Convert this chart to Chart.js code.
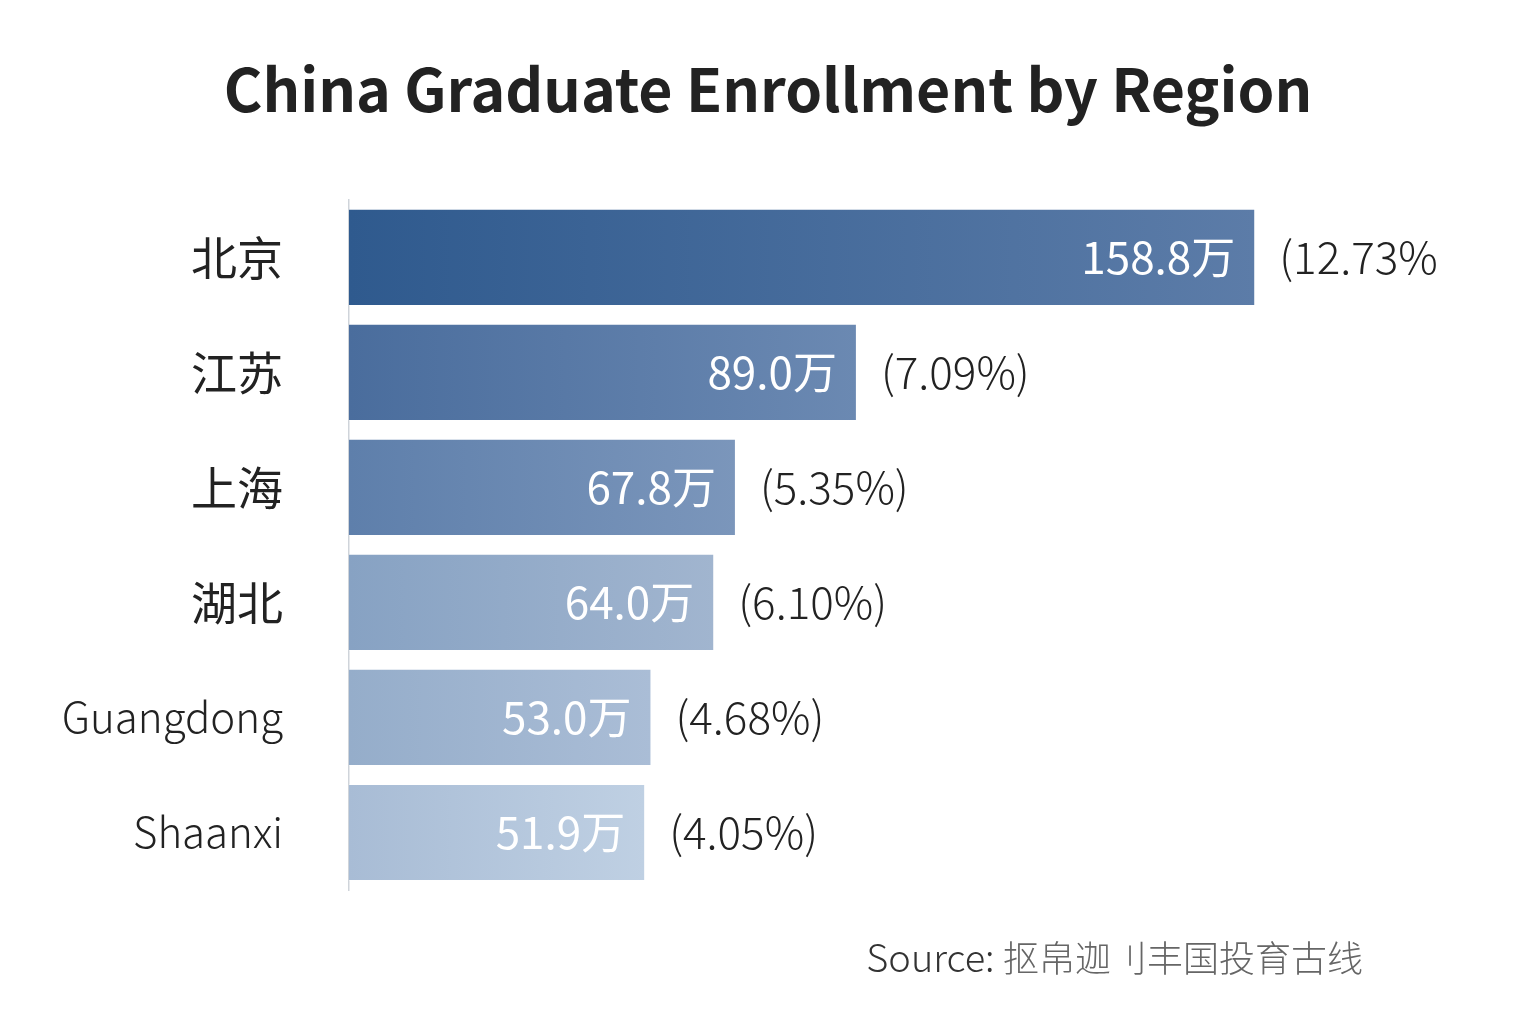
<!DOCTYPE html>
<html>
<head>
<meta charset="utf-8">
<title>China Graduate Enrollment by Region</title>
<script src="https://cdn.jsdelivr.net/npm/chart.js@4/dist/chart.umd.min.js"></script>
<style>
  html, body { margin: 0; padding: 0; background: #fff; }
  canvas { display: block; }
</style>
</head>
<body>
<canvas id="enrollChart" width="1536" height="1024"></canvas>
<script>
const regions = ['北京', '江苏', '上海', '湖北', 'Guangdong', 'Shaanxi'];
const enrollment = [158.8, 89.0, 67.8, 64.0, 53.0, 51.9]; // 万
const shareLabels = ['(12.73%', '(7.09%)', '(5.35%)', '(6.10%)', '(4.68%)', '(4.05%)'];
const sourceName = '抠帛迦刂丰国投育古线';

// left -> right gradient stops per bar
const barColors = [
  ['#2f5a8e', '#5c7ca8'],
  ['#4a6d9d', '#6b89b2'],
  ['#5e7fab', '#7b96bb'],
  ['#87a2c3', '#a1b5cf'],
  ['#95adca', '#aabdd6'],
  ['#a8bcd5', '#bfd0e3'],
];

const FONT = '"Noto Sans CJK SC", "Noto Sans", sans-serif';

const barLabels = {
  id: 'barLabels',
  afterDatasetsDraw(chart) {
    const ctx = chart.ctx;
    const meta = chart.getDatasetMeta(0);
    ctx.save();
    ctx.textBaseline = 'middle';
    meta.data.forEach((bar, i) => {
      ctx.font = '44px ' + FONT;
      ctx.fillStyle = '#ffffff';
      ctx.textAlign = 'right';
      ctx.fillText(enrollment[i].toFixed(1) + '万', bar.x - 20, bar.y);
      ctx.font = '300 44px ' + FONT;
      ctx.fillStyle = '#222222';
      ctx.textAlign = 'left';
      ctx.fillText(shareLabels[i], bar.x + 24, bar.y);
    });
    ctx.restore();
  },
  afterDraw(chart) {
    const ctx = chart.ctx;
    ctx.save();
    ctx.textBaseline = 'middle';
    ctx.textAlign = 'right';
    ctx.font = '300 36px ' + FONT;
    ctx.fillStyle = '#666666';
    const right = 1363;
    ctx.fillText(sourceName, right, 958);
    const w = ctx.measureText(sourceName).width;
    ctx.font = '300 38px ' + FONT;
    ctx.fillStyle = '#333333';
    ctx.fillText('Source: ', right - w, 958);
    ctx.restore();
  }
};

new Chart(document.getElementById('enrollChart'), {
  type: 'bar',
  data: {
    labels: regions,
    datasets: [{
      data: enrollment,
      backgroundColor: (c) => {
        const chart = c.chart;
        const area = chart.chartArea;
        const stops = barColors[c.dataIndex] || barColors[0];
        if (!area || c.raw == null) return stops[0];
        const end = chart.scales.x.getPixelForValue(c.raw);
        const g = chart.ctx.createLinearGradient(area.left, 0, end, 0);
        g.addColorStop(0, stops[0]);
        g.addColorStop(1, stops[1]);
        return g;
      },
      borderColor: 'rgba(255,255,255,0.35)',
      borderWidth: 1,
      borderSkipped: 'left',
      barPercentage: 1,
      categoryPercentage: 0.845,
    }],
  },
  options: {
    responsive: false,
    devicePixelRatio: 1,
    animation: false,
    indexAxis: 'y',
    layout: { padding: { left: 0, right: 0, top: 0, bottom: 134 } },
    scales: {
      x: {
        display: false,
        min: 0,
        max: 208,
      },
      y: {
        grid: { display: false },
        border: { display: true, color: '#cfd4da', width: 1.5 },
        afterFit: (axis) => { axis.width = 349; },
        ticks: {
          padding: 58,
          color: '#222222',
          font: (c) => c.index < 4
            ? { family: FONT, size: 46, weight: '400' }
            : { family: FONT, size: 42, weight: '300' },
        },
      },
    },
    plugins: {
      legend: { display: false },
      tooltip: { enabled: false },
      title: {
        display: true,
        text: 'China Graduate Enrollment by Region',
        color: '#222222',
        font: { family: FONT, size: 59, weight: 'bold', lineHeight: 1.2 },
        padding: { top: 54, bottom: 75 },
      },
    },
  },
  plugins: [barLabels],
});
</script>
</body>
</html>
